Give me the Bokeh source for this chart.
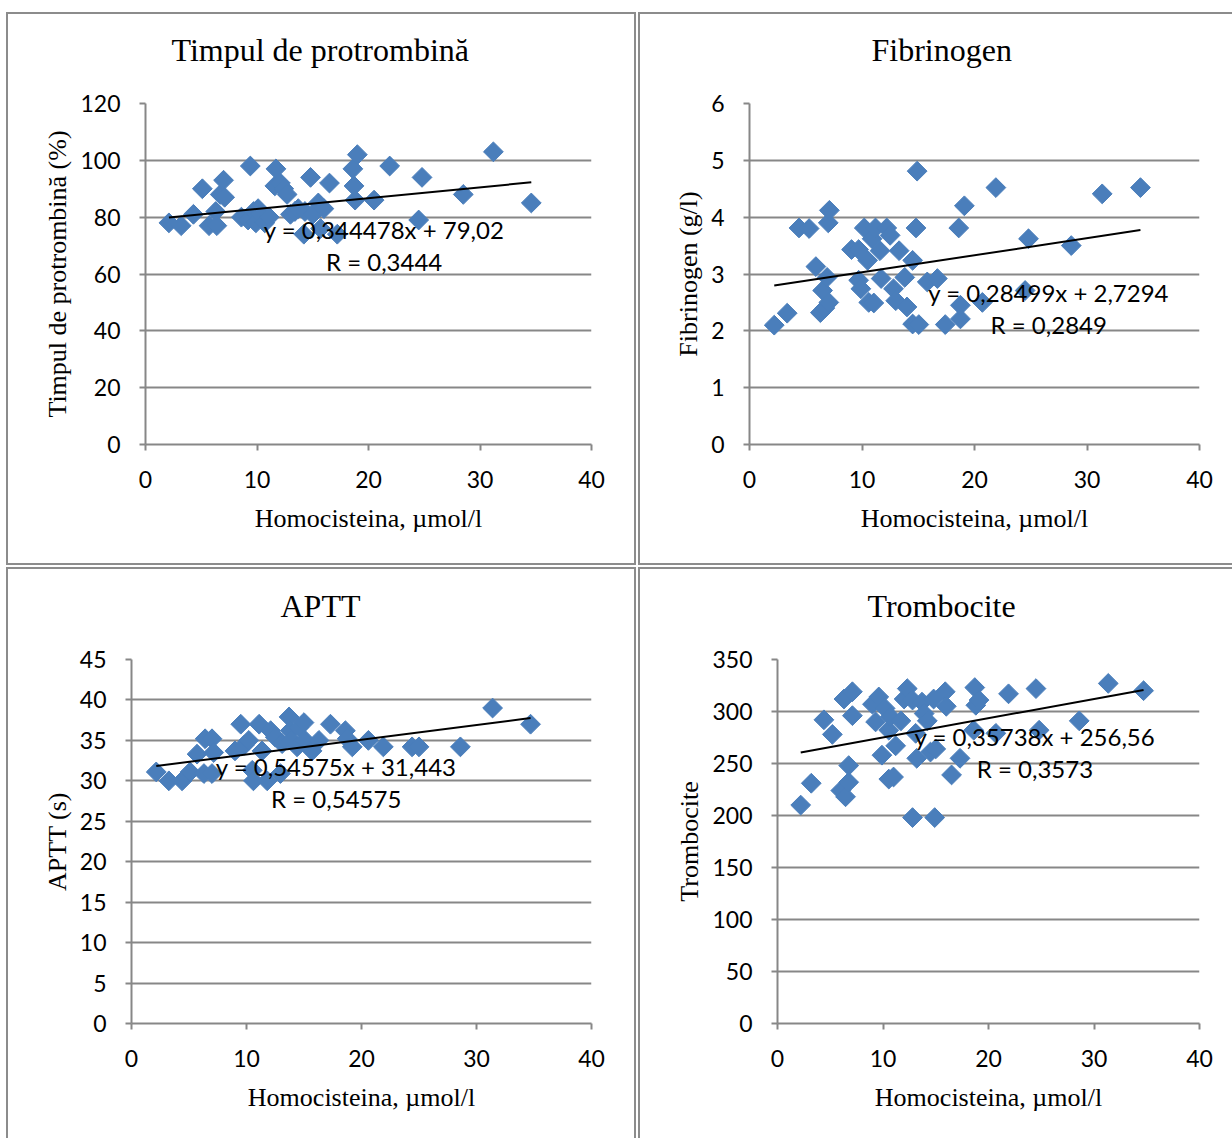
from bokeh.plotting import figure
from bokeh.layouts import column, row
from bokeh.models import Range1d, FixedTicker, Label, Title
from bokeh.embed import file_html
from bokeh.resources import INLINE
import math

# ---------------- data ----------------
x_ticks = [0, 10, 20, 30, 40]
x_label = "Homocisteina, µmol/l"

pt_title = "Timpul de protrombină"
pt_ylabel = "Timpul de protrombină (%)"
pt_yticks = [0, 20, 40, 60, 80, 100, 120]
pt_x = [2.1, 3.2, 4.3, 5.1, 5.7, 6.3, 6.4, 6.7, 7.0, 7.1, 8.6, 9.2, 9.4, 9.7, 9.9, 10.1,
        10.3, 10.7, 11.1, 11.6, 11.7, 12.1, 12.4, 12.7, 13.0, 13.4, 13.7, 14.2, 14.3, 14.8,
        15.0, 15.5, 15.7, 16.0, 16.5, 17.2, 18.6, 18.7, 18.8, 19.0, 20.5, 21.9, 24.5, 24.8,
        28.5, 31.2, 34.6]
pt_y = [78, 77, 81, 90, 77, 82, 77, 88, 93, 87, 80, 79, 98, 82, 78, 83,
        81, 78, 80, 91, 97, 92, 90, 88, 81, 82, 83, 74, 82, 94,
        81, 85, 76, 83, 92, 74, 97, 91, 86, 102, 86, 98, 79, 94,
        88, 103, 85]
pt_trend = [0.38, 79.1]          # slope, intercept of the drawn line
pt_eq = ["y = 0,344478x + 79,02", "R = 0,3444"]

fb_title = "Fibrinogen"
fb_ylabel = "Fibrinogen (g/l)"
fb_yticks = [0, 1, 2, 3, 4, 5, 6]
fb_x = [2.2, 3.35, 4.4, 5.3, 5.9, 6.3, 6.5, 6.7, 6.9, 7.0, 7.05, 7.1, 9.07, 9.7, 9.7, 9.9,
        10.2, 10.5, 10.6, 10.9, 11.05, 11.2, 11.6, 11.7, 12.2, 12.5, 12.8, 13.0, 13.3, 13.8,
        14.0, 14.5, 14.5, 14.8, 14.9, 15.05, 15.8, 16.7, 17.4, 18.6, 18.75, 18.75, 19.1, 20.7,
        21.9, 24.5, 24.8, 28.6, 31.35, 34.75]
fb_y = [2.1, 2.31, 3.81, 3.8, 3.13, 2.32, 2.71, 2.4, 2.94, 3.9, 2.5, 4.12, 3.43, 3.43, 2.89, 2.74,
        3.81, 3.24, 2.5, 3.62, 2.49, 3.81, 3.41, 2.92, 3.81, 3.68, 2.74, 2.53, 3.41, 2.94,
        2.42, 3.24, 2.12, 3.81, 4.81, 2.11, 2.86, 2.92, 2.11, 3.81, 2.21, 2.45, 4.2, 2.5,
        4.52, 2.71, 3.62, 3.5, 4.41, 4.52]
fb_trend = [0.0300, 2.73]
fb_eq = ["y = 0,28499x + 2,7294", "R = 0,2849"]

ap_title = "APTT"
ap_ylabel = "APTT (s)"
ap_yticks = [0, 5, 10, 15, 20, 25, 30, 35, 40, 45]
ap_x = [2.15, 3.25, 4.4, 5.1, 5.7, 6.3, 6.4, 7.0, 7.0, 7.15, 9.0, 9.5, 9.8, 10.2, 10.5, 10.6,
        11.1, 11.35, 11.8, 12.1, 12.5, 12.95, 13.1, 13.7, 13.8, 13.9, 14.4, 14.55, 15.0, 15.1,
        15.7, 16.3, 17.3, 18.6, 18.75, 19.2, 20.6, 21.9, 24.4, 25.0, 28.6, 31.4, 34.7]
ap_y = [31.1, 30.0, 30.0, 31.1, 33.3, 30.9, 35.2, 35.2, 30.9, 33.5, 33.7, 37.0, 34.4, 35.0, 31.3, 30.0,
        37.0, 33.7, 30.0, 36.2, 35.4, 30.9, 34.6, 37.9, 36.2, 35.0, 34.2, 36.6, 37.2, 35.0,
        33.7, 35.0, 37.0, 36.2, 35.2, 34.2, 35.0, 34.2, 34.2, 34.2, 34.2, 39.0, 37.0]
ap_trend = [0.182, 31.44]
ap_eq = ["y = 0,54575x + 31,443", "R = 0,54575"]

tr_title = "Trombocite"
tr_ylabel = "Trombocite"
tr_yticks = [0, 50, 100, 150, 200, 250, 300, 350]
tr_x = [2.2, 3.2, 4.4, 5.2, 6.0, 6.3, 6.45, 6.75, 6.75, 7.1, 7.1, 9.0, 9.6, 9.3, 9.9, 10.2,
        10.55, 10.7, 10.55, 11.0, 11.2, 11.7, 12.0, 12.3, 12.8, 12.8, 13.1, 13.2, 13.7, 13.9,
        14.2, 14.5, 14.8, 14.9, 15.0, 15.9, 16.0, 16.5, 17.3, 18.7, 18.8, 19.1, 18.6, 20.7,
        21.9, 24.5, 24.8, 28.6, 31.35, 34.7]
tr_y = [210, 231, 292, 278, 224, 312, 218, 232, 248, 319, 296, 307, 314, 290, 258, 303,
        282, 295, 235, 237, 267, 291, 312, 322, 311, 198, 279, 255, 309, 298,
        291, 261, 312, 198, 264, 319, 305, 239, 255, 323, 306, 311, 282, 279,
        317, 322, 282, 291, 327, 320]
tr_trend = [1.85, 256.56]
tr_eq = ["y = 0,35738x + 256,56", "R = 0,3573"]

# ---------------- styling ----------------
GRID = "#878787"
BLUE = "#4a7ebb"
SERIF = "Liberation Serif"
SANS = "Lato"
OUTLINE = {"outline": "2px solid #8c8c8c"}


def panel(title, ylabel, xs, ys, yticks, trend, eq, w, h, mb, title_off, eq_pos):
    left, right, top, bottom = mb
    p = figure(width=w, height=h, x_range=Range1d(0, 40),
               y_range=Range1d(yticks[0], yticks[-1]),
               output_backend="svg", toolbar_location=None,
               min_border_left=left, min_border_right=right,
               min_border_top=top, min_border_bottom=bottom)
    p.styles = OUTLINE
    p.outline_line_color = None
    p.background_fill_color = "white"
    p.border_fill_color = "white"

    # spacer between the frame and the chart title, then the title itself
    p.title = None
    p.add_layout(Title(text=" ", text_font_size="10px", standoff=16), "above")
    p.add_layout(Title(text=title, align="left", offset=title_off,
                       vertical_align="top", standoff=10,
                       text_font=SERIF, text_font_size="32px",
                       text_font_style="normal", text_color="black"), "above")

    p.xaxis.ticker = FixedTicker(ticks=x_ticks)
    p.yaxis.ticker = FixedTicker(ticks=yticks)
    p.xgrid.visible = False
    p.ygrid.ticker = FixedTicker(ticks=yticks)
    p.ygrid.grid_line_color = GRID
    p.ygrid.grid_line_width = 2

    for ax in (p.xaxis[0], p.yaxis[0]):
        ax.axis_line_color = GRID
        ax.axis_line_width = 2
        ax.major_tick_line_color = GRID
        ax.major_tick_line_width = 2
        ax.major_tick_in = 0
        ax.major_tick_out = 6
        ax.minor_tick_line_color = None
        ax.major_label_text_font = SANS
        ax.major_label_text_font_size = "23px"
        ax.major_label_text_color = "black"
        ax.axis_label_text_font = SERIF
        ax.axis_label_text_font_size = "26px"
        ax.axis_label_text_font_style = "normal"
        ax.axis_label_text_color = "black"
    p.xaxis.axis_label = x_label
    p.yaxis.axis_label = ylabel
    p.xaxis.major_label_standoff = 20
    p.yaxis.major_label_standoff = 19
    p.xaxis.axis_label_standoff = 13
    p.yaxis.axis_label_standoff = 5

    p.scatter(xs, ys, marker="square", size=14, angle=math.pi / 4,
              fill_color=BLUE, line_color=BLUE)
    x0, x1 = min(xs), max(xs)
    p.line([x0, x1], [trend[0] * x0 + trend[1], trend[0] * x1 + trend[1]],
           line_color="black", line_width=2)
    for txt, (lx, ly) in zip(eq, eq_pos):
        p.add_layout(Label(x=lx, y=ly, text=txt, text_align="center",
                           text_baseline="middle", text_font=SANS,
                           text_font_size="24px", text_color="black"))
    return p


p1 = panel(pt_title, pt_ylabel, pt_x, pt_y, pt_yticks, pt_trend, pt_eq,
           626, 549, (137, 43, 89, 119), 26, [(21.4, 75.6), (21.4, 64.4)])
p2 = panel(fb_title, fb_ylabel, fb_x, fb_y, fb_yticks, fb_trend, fb_eq,
           592, 549, (109, 33, 89, 119), 122, [(26.6, 2.67), (26.6, 2.11)])
p3 = panel(ap_title, ap_ylabel, ap_x, ap_y, ap_yticks, ap_trend, ap_eq,
           626, 569, (123, 43, 90, 115), 149, [(17.8, 31.8), (17.8, 27.8)])
p4 = panel(tr_title, tr_ylabel, tr_x, tr_y, tr_yticks, tr_trend, tr_eq,
           592, 569, (137, 33, 90, 115), 90, [(24.4, 276), (24.4, 245)])

layout = column(row(p1, p2, spacing=6), row(p3, p4, spacing=6), spacing=6,
                margin=(14, 0, 0, 8))

open("out.html", "w").write(file_html(layout, INLINE))
